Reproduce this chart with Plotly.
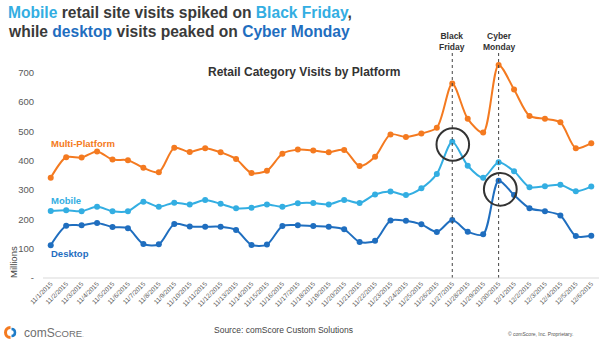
import plotly.graph_objects as go

dates = ["11/1/2015", "11/2/2015", "11/3/2015", "11/4/2015", "11/5/2015", "11/6/2015",
         "11/7/2015", "11/8/2015", "11/9/2015", "11/10/2015", "11/11/2015", "11/12/2015",
         "11/13/2015", "11/14/2015", "11/15/2015", "11/16/2015", "11/17/2015", "11/18/2015",
         "11/19/2015", "11/20/2015", "11/21/2015", "11/22/2015", "11/23/2015", "11/24/2015",
         "11/25/2015", "11/26/2015", "11/27/2015", "11/28/2015", "11/29/2015", "11/30/2015",
         "12/1/2015", "12/2/2015", "12/3/2015", "12/4/2015", "12/5/2015", "12/6/2015"]

multi_platform = [342, 412, 411, 432, 404, 402, 376, 361, 444, 430, 443, 429, 406, 358, 366, 424,
                  438, 435, 429, 437, 382, 414, 490, 481, 493, 513, 664, 543, 496, 727,
                  643, 553, 543, 531, 443, 460]
mobile = [229, 231, 228, 243, 228, 228, 260, 243, 257, 251, 266, 253, 238, 240, 251, 243,
          255, 256, 251, 266, 256, 285, 295, 283, 306, 355, 465, 383, 342, 395,
          364, 310, 313, 318, 296, 312]
desktop = [112, 178, 180, 188, 174, 170, 116, 115, 184, 176, 175, 175, 164, 113, 114, 177,
           180, 177, 175, 166, 123, 127, 196, 195, 183, 157, 198, 158, 149, 332,
           283, 238, 228, 213, 143, 144]

y_ticks = [0, 100, 200, 300, 400, 500, 600, 700]
y_tick_text = ["-", "100", "200", "300", "400", "500", "600", "700"]

black_friday = "11/27/2015"
cyber_monday = "11/30/2015"

ORANGE = "#F47A20"
LIGHT = "#33AEE2"
DARK = "#1F6EBF"
FONT = "Liberation Sans, Arial, sans-serif"

W, H = 600, 343
L, R, T, B = 43, 1, 50, 65
PW, PH = W - L - R, H - T - B


def px(x):
    return (x - L) / PW


def py(y):
    return (H - B - y) / PH


fig = go.Figure()
for name, vals, col in [("Multi-Platform", multi_platform, ORANGE),
                        ("Mobile", mobile, LIGHT),
                        ("Desktop", desktop, DARK)]:
    fig.add_trace(go.Scatter(
        x=dates, y=vals, name=name, mode="lines+markers",
        line=dict(color=col, width=2, shape="spline", smoothing=0.8),
        marker=dict(color=col, size=6),
        hoverinfo="x+y+name", showlegend=False))

shapes = []
for d in [black_friday, cyber_monday]:
    shapes.append(dict(type="line", xref="x", yref="paper", x0=d, x1=d,
                       y0=0, y1=py(52), line=dict(color="#444", width=1, dash="dot")))
for cx, cy, r in [(452.8, 144.5, 16.3), (500.3, 189.3, 16.4)]:
    shapes.append(dict(type="circle", xref="paper", yref="paper",
                       x0=px(cx - r), x1=px(cx + r), y0=py(cy + r), y1=py(cy - r),
                       line=dict(color="#333", width=2)))
# x-axis baseline
shapes.append(dict(type="line", xref="paper", yref="paper", x0=0, x1=1, y0=0, y1=0,
                   line=dict(color="#D9D9D9", width=1)))
# comScore logo icon
icx, icy, ir = 10.5, 332.5, 5
shapes.append(dict(type="path", xref="paper", yref="paper",
                   path=f"M {px(icx)},{py(icy - ir)} C {px(icx - 1.33 * ir)},{py(icy - ir)} "
                        f"{px(icx - 1.33 * ir)},{py(icy + ir)} {px(icx)},{py(icy + ir)}",
                   line=dict(color=ORANGE, width=3)))
shapes.append(dict(type="path", xref="paper", yref="paper",
                   path=f"M {px(icx + 1)},{py(icy - ir + 1.5)} C {px(icx + 1 + 1.33 * (ir - 1.5))},{py(icy - ir + 1.5)} "
                        f"{px(icx + 1 + 1.33 * (ir - 1.5))},{py(icy + ir - 1.5)} {px(icx + 1)},{py(icy + ir - 1.5)}",
                   line=dict(color="#1E7CC8", width=2.5)))

ann = []
title_col = "#3A3A3A"
ann.append(dict(xref="paper", yref="paper", x=px(6), y=py(12.5), xanchor="left", yanchor="middle",
                showarrow=False, font=dict(family=FONT, size=15.6, color=title_col),
                text=f"<b><span style='color:{LIGHT}'>Mobile</span> retail site visits spiked on "
                     f"<span style='color:{LIGHT}'>Black Friday</span>,</b>"))
ann.append(dict(xref="paper", yref="paper", x=px(6), y=py(31), xanchor="left", yanchor="middle",
                showarrow=False, font=dict(family=FONT, size=15.6, color=title_col),
                text=f"<b>while <span style='color:{DARK}'>desktop</span> visits peaked on "
                     f"<span style='color:{DARK}'>Cyber Monday</span></b>"))
ann.append(dict(xref="paper", yref="paper", x=px(304), y=py(72), xanchor="center", yanchor="middle",
                showarrow=False, font=dict(family=FONT, size=12, color="#333"),
                text="<b>Retail Category Visits by Platform</b>"))
for d, txt in [(black_friday, "Black<br>Friday"), (cyber_monday, "Cyber<br>Monday")]:
    ann.append(dict(xref="x", yref="paper", x=d, y=py(42), xanchor="center", yanchor="middle",
                    showarrow=False, font=dict(family=FONT, size=8.5, color="#333"),
                    text=f"<b>{txt}</b>"))
for txt, col, yy in [("Multi-Platform", ORANGE, 143.5), ("Mobile", LIGHT, 200), ("Desktop", DARK, 253.5)]:
    ann.append(dict(xref="paper", yref="paper", x=px(49), y=py(yy), xanchor="left", yanchor="middle",
                    showarrow=False, font=dict(family=FONT, size=9.5, color=col),
                    text=f"<b>{txt}</b>"))
ann.append(dict(xref="paper", yref="paper", x=px(13), y=py(262), xanchor="center", yanchor="middle",
                showarrow=False, textangle=-90, font=dict(family=FONT, size=9.5, color="#444"),
                text="Millions"))
ann.append(dict(xref="paper", yref="paper", x=px(283), y=py(330), xanchor="center", yanchor="middle",
                showarrow=False, font=dict(family=FONT, size=8.5, color="#444"),
                text="Source: comScore Custom Solutions"))
ann.append(dict(xref="paper", yref="paper", x=px(540), y=py(334), xanchor="center", yanchor="middle",
                showarrow=False, font=dict(family=FONT, size=5, color="#555"),
                text="© comScore, Inc. Proprietary."))
ann.append(dict(xref="paper", yref="paper", x=px(22), y=py(333), xanchor="left", yanchor="middle",
                showarrow=False, font=dict(family=FONT, size=12, color="#6E6E6E"),
                text="comS<span style='font-size:9.5px'>CORE</span><span style='font-size:5px'>.</span>"))

fig.update_layout(
    width=W, height=H,
    margin=dict(l=L, r=R, t=T, b=B),
    paper_bgcolor="white", plot_bgcolor="white",
    font=dict(family=FONT, color="#595959"),
    xaxis=dict(type="category", range=[-0.5, len(dates) - 0.5], tickangle=-45,
               tickfont=dict(size=6.5, color="#595959"), showgrid=False, zeroline=False,
               showline=False, ticks=""),
    yaxis=dict(range=[0, PH / 0.2931], tickvals=y_ticks, ticktext=y_tick_text,
               tickfont=dict(size=9.5, color="#595959"), showgrid=False, zeroline=False,
               showline=False, ticks="", ticklabelstandoff=8),
    shapes=shapes, annotations=ann,
)

fig.write_html("out.html")
